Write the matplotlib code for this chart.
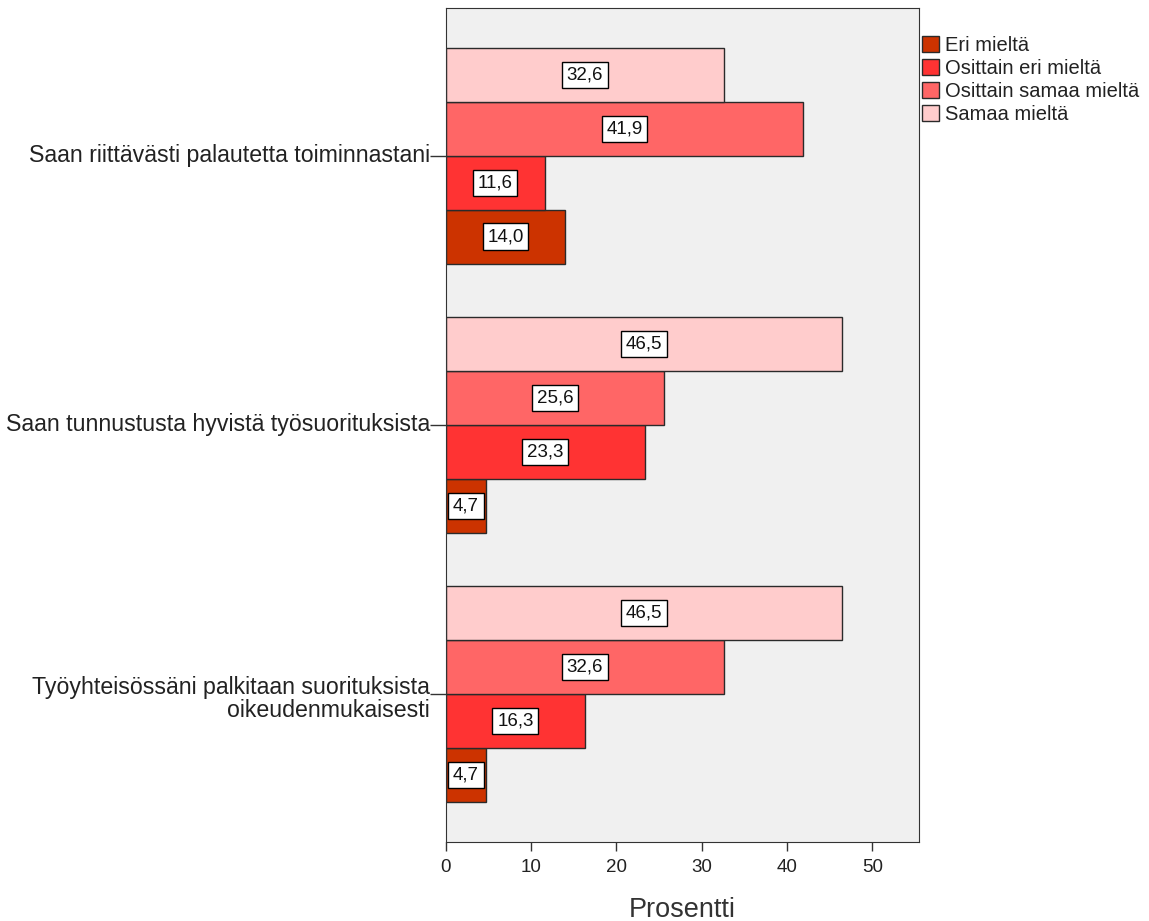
import numpy as np
import matplotlib.pyplot as plt

plt.rcParams['font.family'] = ['Liberation Sans', 'DejaVu Sans']

kysymykset = ['Saan riittävästi palautetta toiminnastani',
              'Saan tunnustusta hyvistä työsuorituksista',
              'Työyhteisössäni palkitaan suorituksista\noikeudenmukaisesti']
vastaukset = ['Eri mieltä', 'Osittain eri mieltä', 'Osittain samaa mieltä', 'Samaa mieltä']
varit = ['#CC3300', '#FF3333', '#FF6666', '#FFCCCC']

# prosentit vastausvaihtoehdoittain, kysymysten järjestyksessä
eri = [14.0, 4.7, 4.7]
osittain_eri = [11.6, 23.3, 16.3]
osittain_samaa = [41.9, 25.6, 32.6]
samaa = [32.6, 46.5, 46.5]
arvot = [eri, osittain_eri, osittain_samaa, samaa]

fig = plt.figure(figsize=(11.49, 9.21), dpi=100)
ax = fig.add_axes([0.388, 0.0858, 0.412, 0.9055])
ax.set_facecolor('#F0F0F0')

y = np.arange(len(kysymykset))
h = 0.2
# Eri mieltä alimpana, Samaa mieltä ylimpänä
offsets = [0.3, 0.1, -0.1, -0.3]
for i, (nimi, vari, sarja) in enumerate(zip(vastaukset, varit, arvot)):
    bars = ax.barh(y + offsets[i], sarja, height=h, color=vari, edgecolor='#2a2a2a',
                   linewidth=1.0, label=nimi)
    for b, v in zip(bars, sarja):
        ax.text(v / 2, b.get_y() + b.get_height() / 2, f'{v:.1f}'.replace('.', ','),
                ha='center', va='center', fontsize=13.5, color='#111111',
                bbox=dict(boxstyle='square,pad=0.25', fc='white', ec='black', lw=1.0))

ax.set_ylim(2.55, -0.55)
ax.set_xlim(0, 55.5)
ax.set_xticks(range(0, 51, 10))
ax.set_yticks(y)
ax.set_yticklabels([])
ax.tick_params(axis='y', length=11.5, width=1, color='#333333')
ax.tick_params(axis='x', length=6.5, width=1, labelsize=13.5, pad=6,
               color='#333333', labelcolor='#222222')
for s in ax.spines.values():
    s.set_color('#333333')
ax.set_xlabel('Prosentti', fontsize=19.5, color='#333333', labelpad=15)

# kysymysten nimet tikkien vasemmalle puolelle; kaksirivisessä ensimmäinen rivi tikin kohdalle
for yi, teksti in zip(y, kysymykset):
    rivit = teksti.split('\n')
    if len(rivit) == 1:
        ax.annotate(teksti, xy=(0, yi), xycoords=('axes fraction', 'data'),
                    xytext=(-11.5, 0), textcoords='offset points',
                    ha='right', va='center', fontsize=16.7, color='#222222')
    else:
        for k, rivi in enumerate(rivit):
            ax.annotate(rivi, xy=(0, yi), xycoords=('axes fraction', 'data'),
                        xytext=(-11.5, -16.5 * k), textcoords='offset points',
                        ha='right', va='baseline', fontsize=16.7, color='#222222')

handles, labels = ax.get_legend_handles_labels()
leg = ax.legend(handles, labels, loc='upper left', bbox_to_anchor=(1.0, 0.970), frameon=False,
                fontsize=14.5, handlelength=0.85, handleheight=0.85, handletextpad=0.3,
                labelspacing=0.2, borderaxespad=0.15, borderpad=0.0)
for t in leg.get_texts():
    t.set_color('#222222')

fig.savefig('out.png', dpi=100)
